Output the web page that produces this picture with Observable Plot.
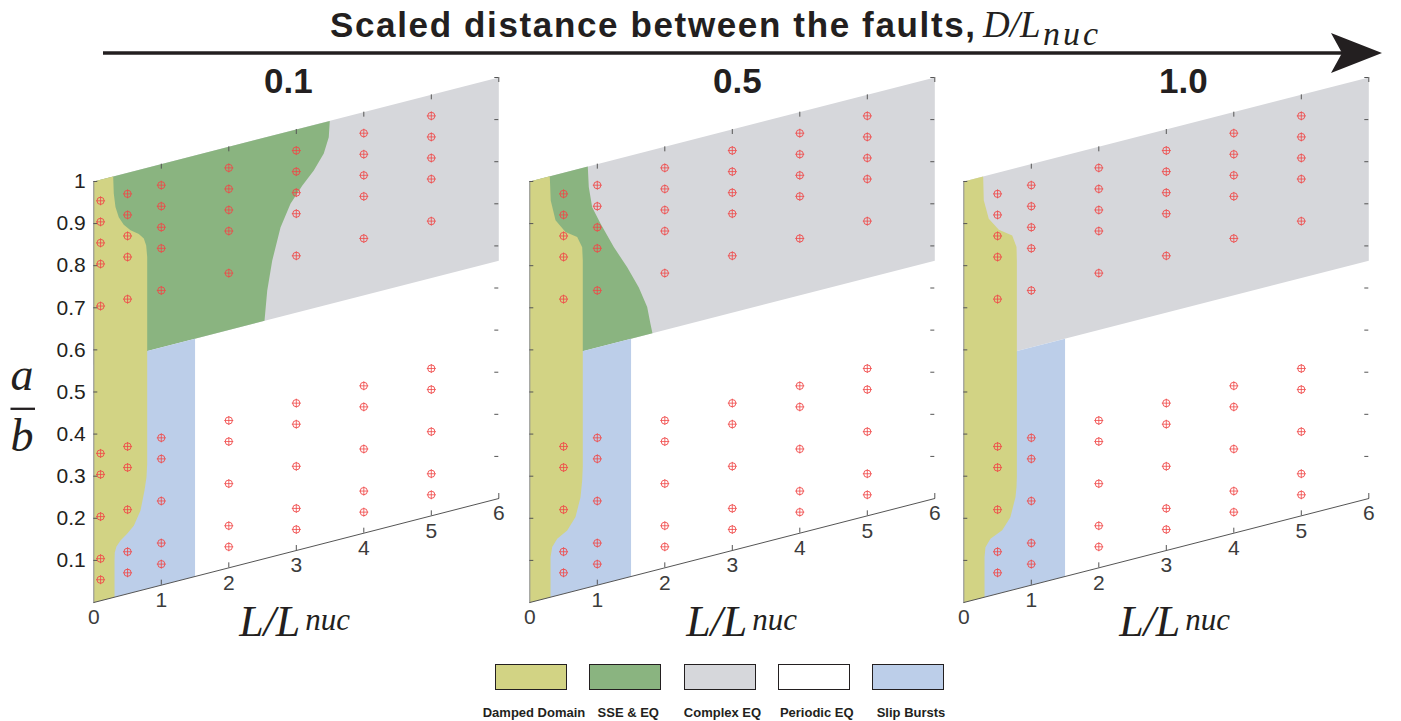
<!DOCTYPE html>
<html>
<head>
<meta charset="utf-8">
<script src="https://cdn.jsdelivr.net/npm/d3@7"></script>
<script src="https://cdn.jsdelivr.net/npm/@observablehq/plot@0.6"></script>
<style>
  body { margin: 0; background: #fff; font-family: "Liberation Sans", Arial, sans-serif; }
  #page { position: relative; width: 1401px; height: 721px; overflow: hidden; background: #fff; }
  .panel { position: absolute; top: 60px; }
  #decor { position: absolute; left: 0; top: 0; pointer-events: none; z-index: 5; }
  .swatch { position: absolute; top: 664px; width: 72px; height: 26px; box-sizing: border-box; border: 1px solid #231f20; }
  .swatch-label { position: absolute; top: 705px; line-height: 15px; font-size: 13px; font-weight: bold; color: #231f20; white-space: nowrap; transform: translateX(-50%); }
</style>
</head>
<body>
<div id="page"></div>
<script>
// ---------------- DATA ----------------
const panelTitles = ["0.1", "0.5", "1.0"];                 // D / L_nuc of each panel
const abLevels = [0.05, 0.1, 0.2, 0.3, 0.35, 0.7, 0.8, 0.85, 0.9, 0.95];   // simulated a/b values
const lengthsPanel1 = [0.1, 0.5, 1, 2, 3, 4, 5];           // simulated L/L_nuc, D/L_nuc = 0.1
const lengthsPanels23 = [0.5, 1, 2, 3, 4, 5];              // simulated L/L_nuc, D/L_nuc = 0.5 and 1.0
const xTicks = [0, 1, 2, 3, 4, 5, 6];
const yTicks = [0.1, 0.2, 0.3, 0.4, 0.5, 0.6, 0.7, 0.8, 0.9, 1];
const lDomain = [0, 6];
const abDomain = [0, 1];
const upperRegimeFloor = 0.565;   // a/b above which SSE & EQ / Complex EQ occur
const slipBurstMaxL = 1.5;        // right edge of the Slip Bursts regime

// regime boundaries as [L/Lnuc, a/b]
const dampedUpperP1 = [[0.287,1],[0.296,0.959],[0.321,0.926],[0.37,0.90],[0.444,0.879],[0.544,0.862],[0.667,0.848],[0.741,0.834],[0.776,0.816],[0.791,0.788],[0.791,0.565]];
const dampedLowerP1 = [[0.791,0.565],[0.791,0.297],[0.781,0.266],[0.751,0.235],[0.692,0.19],[0.593,0.158],[0.494,0.143],[0.396,0.131],[0.336,0.119],[0.311,0.106],[0.307,0.087],[0.307,0]];
const sseRightP1 = [[2.529,0.565],[2.569,0.635],[2.643,0.703],[2.766,0.777],[2.914,0.827],[3.087,0.863],[3.259,0.892],[3.407,0.926],[3.481,0.962],[3.496,1]];

const dampedUpperP2 = [[0.296,1],[0.31,0.942],[0.381,0.892],[0.529,0.858],[0.702,0.839],[0.776,0.812],[0.785,0.78],[0.785,0.565]];
const dampedLowerP2 = [[0.785,0.565],[0.785,0.29],[0.776,0.258],[0.751,0.219],[0.677,0.175],[0.554,0.148],[0.406,0.135],[0.332,0.118],[0.307,0.095],[0.307,0]];
const sseRightP2 = [[1.817,0.565],[1.788,0.588],[1.739,0.63],[1.615,0.682],[1.443,0.737],[1.244,0.793],[1.047,0.857],[0.924,0.901],[0.874,0.951],[0.859,1]];

const dampedUpperP3 = [[0.287,1],[0.296,0.943],[0.37,0.896],[0.519,0.864],[0.717,0.842],[0.781,0.812],[0.786,0.779],[0.786,0.565]];
const dampedLowerP3 = [[0.786,0.565],[0.786,0.265],[0.781,0.242],[0.766,0.219],[0.69,0.174],[0.569,0.148],[0.395,0.135],[0.321,0.118],[0.307,0.095],[0.307,0]];

const regimeNames = ["Damped Domain", "SSE & EQ", "Complex EQ", "Periodic EQ", "Slip Bursts"];
const regimeColors = ["#d2d384", "#8ab480", "#d6d7db", "#ffffff", "#bccee9"];

// ---------------- LAYOUT ----------------
const SHEAR = 17.33 / 421;           // oblique view: a/b lift per unit of L/Lnuc
const FRAME_W = 405;
const panelLeft = [0, 515, 950];
const panelWidth = [515, 435, 451];
const panelMarginLeft = [93.3, 14.3, 13.3];
const titleDx = [-8, 5, 17];
const labelDx = [4, 15, 14];
const TICK = 5 / 421;
const RED = "#f04848";
const SERIF = "'Liberation Serif', 'DejaVu Serif', serif";
const page = document.getElementById("page");

const lengthsByPanel = [lengthsPanel1, lengthsPanels23, lengthsPanels23];
const dampedUpper = [dampedUpperP1, dampedUpperP2, dampedUpperP3];
const dampedLower = [dampedLowerP1, dampedLowerP2, dampedLowerP3];
const sseRight = [sseRightP1, sseRightP2, null];

const px = d => d[0];
const py = d => d[1] + SHEAR * d[0];
const poly = (pts, color) => Plot.line(pts, {x: px, y: py, fill: color, stroke: "none"});

panelTitles.forEach((title, i) => {
  const points = lengthsByPanel[i].flatMap(L => abLevels.map(ab => [L, ab]));
  const band = [[lDomain[0], upperRegimeFloor], [lDomain[0], abDomain[1]], [lDomain[1], abDomain[1]], [lDomain[1], upperRegimeFloor]];
  const slip = [[lDomain[0], abDomain[0]], [lDomain[0], upperRegimeFloor], [slipBurstMaxL, upperRegimeFloor], [slipBurstMaxL, abDomain[0]]];
  const damped = [[lDomain[0], abDomain[1]], ...dampedUpper[i], ...dampedLower[i], [lDomain[0], abDomain[0]]];
  const marks = [
    poly(band, regimeColors[2]),
  ];
  if (sseRight[i]) {
    marks.push(poly([[lDomain[0], upperRegimeFloor], [lDomain[0], abDomain[1]], ...sseRight[i].slice().reverse()], regimeColors[1]));
  }
  marks.push(
    poly(slip, regimeColors[4]),
    poly(damped, regimeColors[0]),
    // axis lines
    Plot.line(abDomain.map(ab => [lDomain[0], ab]), {x: px, y: py, stroke: "#8c8c8c", strokeWidth: 1}),
    Plot.line(lDomain.map(L => [L, abDomain[0]]), {x: px, y: py, stroke: "#555", strokeWidth: 1}),
    // ticks (pointing inward)
    Plot.tickY(yTicks, {y: d => d, stroke: "#555", strokeWidth: 1, insetRight: FRAME_W - 4}),
    Plot.tickY(yTicks, {y: d => d + SHEAR * lDomain[1], stroke: "#555", strokeWidth: 1, insetLeft: FRAME_W - 4}),
    Plot.ruleX(xTicks.slice(1), {x: d => d, y1: d => SHEAR * d, y2: d => SHEAR * d + TICK, stroke: "#555", strokeWidth: 1}),
    Plot.ruleX(xTicks.slice(1), {x: d => d, y1: d => 1 + SHEAR * d - TICK, y2: d => 1 + SHEAR * d, stroke: "#555", strokeWidth: 1}),
    // simulations
    Plot.dot(points, {x: px, y: py, r: 3.6, stroke: RED, strokeWidth: 0.9}),
    Plot.dot(points, {x: px, y: py, r: 3, symbol: "plus", stroke: RED, strokeWidth: 0.8}),
    // x tick labels
    Plot.text(xTicks, {x: d => d, y: d => SHEAR * d, dy: 15, text: d => String(d), fontSize: 21, fill: "#3c3c3c", lineAnchor: "middle"}),
    // x axis label L/L_nuc
    Plot.text(["L/L"], {frameAnchor: "bottom", text: d => d, dx: labelDx[i], dy: 33, textAnchor: "end", lineAnchor: "bottom", fontSize: 44, fontStyle: "italic", fontFamily: SERIF, fill: "#231f20"}),
    Plot.text(["nuc"], {frameAnchor: "bottom", text: d => d, dx: labelDx[i] + 5, dy: 27, textAnchor: "start", lineAnchor: "bottom", fontSize: 31, fontStyle: "italic", fontFamily: SERIF, fill: "#231f20"}),
    // panel title
    Plot.text([title], {frameAnchor: "top", text: d => d, dx: titleDx[i], dy: 4, lineAnchor: "middle", fontSize: 35, fontWeight: "bold", fill: "#231f20"})
  );
  if (i === 0) {
    marks.push(Plot.text(yTicks, {y: d => d, frameAnchor: "left", dx: -8, textAnchor: "end", text: d => String(d), fontSize: 21, fill: "#231f20"}));
  }
  const svg = Plot.plot({
    width: panelWidth[i],
    height: 600,
    marginLeft: panelMarginLeft[i],
    marginRight: panelWidth[i] - panelMarginLeft[i] - FRAME_W,
    marginTop: 17,
    marginBottom: 58,
    x: {domain: lDomain, axis: null},
    y: {domain: [abDomain[0], abDomain[1] + SHEAR * lDomain[1]], axis: null},
    style: {fontFamily: "'Liberation Sans', Arial, sans-serif", overflow: "visible", background: "transparent"},
    marks
  });
  svg.classList.add("panel");
  svg.style.left = panelLeft[i] + "px";
  page.appendChild(svg);
});

// ---------------- TITLE, ARROW, a/b LABEL ----------------
const NS = "http://www.w3.org/2000/svg";
const decor = document.createElementNS(NS, "svg");
decor.setAttribute("id", "decor");
decor.setAttribute("width", 1401);
decor.setAttribute("height", 721);
decor.innerHTML = `
  <text x="330" y="37" font-family="Liberation Sans, Arial, sans-serif" font-weight="bold" font-size="35" fill="#231f20" textLength="645" lengthAdjust="spacing">Scaled distance between the faults,</text>
  <text x="983" y="37" font-family="Liberation Serif, DejaVu Serif, serif" font-style="italic" font-size="37" fill="#231f20">D/L</text>
  <text x="1043" y="45" font-family="Liberation Serif, DejaVu Serif, serif" font-style="italic" font-size="34" fill="#231f20" letter-spacing="3">nuc</text>
  <line x1="103" y1="53" x2="1342" y2="53" stroke="#231f20" stroke-width="3.3"/>
  <path d="M1382,53 L1331,33 L1342,53 L1331,73 Z" fill="#231f20"/>
  <text x="22" y="390" text-anchor="middle" font-family="Liberation Serif, DejaVu Serif, serif" font-style="italic" font-size="46" fill="#231f20">a</text>
  <line x1="10.5" y1="408.8" x2="35" y2="408.8" stroke="#231f20" stroke-width="2.3"/>
  <text x="22" y="450.5" text-anchor="middle" font-family="Liberation Serif, DejaVu Serif, serif" font-style="italic" font-size="46" fill="#231f20">b</text>
`;
page.appendChild(decor);

// ---------------- LEGEND ----------------
regimeNames.forEach((name, i) => {
  const left = 495 + i * 94.25;
  const sw = document.createElement("div");
  sw.className = "swatch";
  sw.style.left = left + "px";
  sw.style.background = regimeColors[i];
  page.appendChild(sw);
  const lab = document.createElement("div");
  lab.className = "swatch-label";
  lab.style.left = (left + 36 + 3) + "px";
  lab.textContent = name;
  page.appendChild(lab);
});
</script>
</body>
</html>
